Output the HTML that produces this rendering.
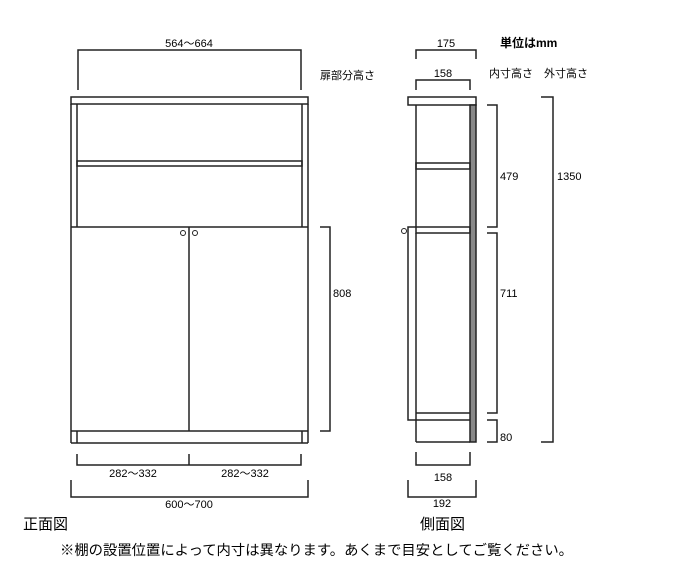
<!DOCTYPE html>
<html><head><meta charset="utf-8"><style>
html,body{margin:0;padding:0;background:#fff;}
svg{display:block;}
text{font-family:"Liberation Sans","Noto Sans CJK JP",sans-serif;fill:#000;}
</style></head><body>
<svg width="700" height="571" viewBox="0 0 700 571" xmlns="http://www.w3.org/2000/svg">
<g fill="none" stroke="#222" stroke-width="1.5">
<!-- FRONT -->
<rect x="71" y="97" width="237" height="7"/>
<line x1="71" y1="104" x2="71" y2="443"/>
<line x1="308" y1="104" x2="308" y2="443"/>
<line x1="77" y1="104" x2="77" y2="227"/>
<line x1="302" y1="104" x2="302" y2="227"/>
<rect x="77" y="161" width="225" height="5"/>
<line x1="71" y1="227" x2="308" y2="227"/>
<line x1="189" y1="227" x2="189" y2="431"/>
<line x1="71" y1="431" x2="308" y2="431"/>
<line x1="71" y1="443" x2="308" y2="443"/>
<line x1="77" y1="431" x2="77" y2="443"/>
<line x1="302" y1="431" x2="302" y2="443"/>
<circle cx="183" cy="233" r="2.5" stroke-width="1"/>
<circle cx="195" cy="233" r="2.5" stroke-width="1"/>
<!-- front dims -->
<polyline points="78,90 78,50 301,50 301,90"/>
<polyline points="320,227 330,227 330,431 320,431"/>
<polyline points="77,454 77,465 301,465 301,454"/>
<line x1="189" y1="454" x2="189" y2="465"/>
<polyline points="71,480 71,497 308,497 308,480"/>
<!-- SIDE -->
<rect x="408" y="97" width="68" height="8"/>
<line x1="416" y1="105" x2="416" y2="227"/>
<rect x="470" y="105" width="6" height="337" fill="#888"/>
<rect x="416" y="163" width="54" height="6"/>
<polyline points="416,227 408,227 408,420 416,420"/>
<rect x="416" y="227" width="54" height="6"/>
<line x1="416" y1="233" x2="416" y2="442"/>
<line x1="416" y1="413" x2="470" y2="413"/>
<line x1="416" y1="420" x2="470" y2="420"/>
<line x1="416" y1="442" x2="470" y2="442"/>
<circle cx="404" cy="231" r="2.5" stroke-width="1"/>
<!-- side dims -->
<polyline points="416,59 416,50 476,50 476,59"/>
<polyline points="416,90 416,80 470,80 470,90"/>
<polyline points="487,105 497,105 497,227 487,227"/>
<polyline points="487,233 497,233 497,413 487,413"/>
<polyline points="487,420 497,420 497,442 487,442"/>
<polyline points="541,97 553,97 553,442 541,442"/>
<polyline points="416,452 416,465 470,465 470,452"/>
<polyline points="408,480 408,497 476,497 476,480"/>
</g>
<g font-size="11">
<text x="189" y="47" text-anchor="middle">564～664</text>
<text x="320" y="79">扉部分高さ</text>
<text x="333" y="297">808</text>
<text x="133" y="477" text-anchor="middle">282～332</text>
<text x="245" y="477" text-anchor="middle">282～332</text>
<text x="189" y="508" text-anchor="middle">600～700</text>
<text x="446" y="47" text-anchor="middle">175</text>
<text x="443" y="77" text-anchor="middle">158</text>
<text x="489" y="77">内寸高さ</text>
<text x="544" y="77">外寸高さ</text>
<text x="500" y="180">479</text>
<text x="500" y="297">711</text>
<text x="500" y="441">80</text>
<text x="557" y="180">1350</text>
<text x="443" y="481" text-anchor="middle">158</text>
<text x="442" y="507" text-anchor="middle">192</text>
</g>
<text x="500" y="47" font-size="12" font-weight="bold">単位はmm</text>
<text x="23" y="529" font-size="15">正面図</text>
<text x="420" y="529" font-size="15">側面図</text>
<text x="60" y="555" font-size="14" textLength="513" lengthAdjust="spacingAndGlyphs">※棚の設置位置によって内寸は異なります。あくまで目安としてご覧ください。</text>
</svg>
</body></html>
